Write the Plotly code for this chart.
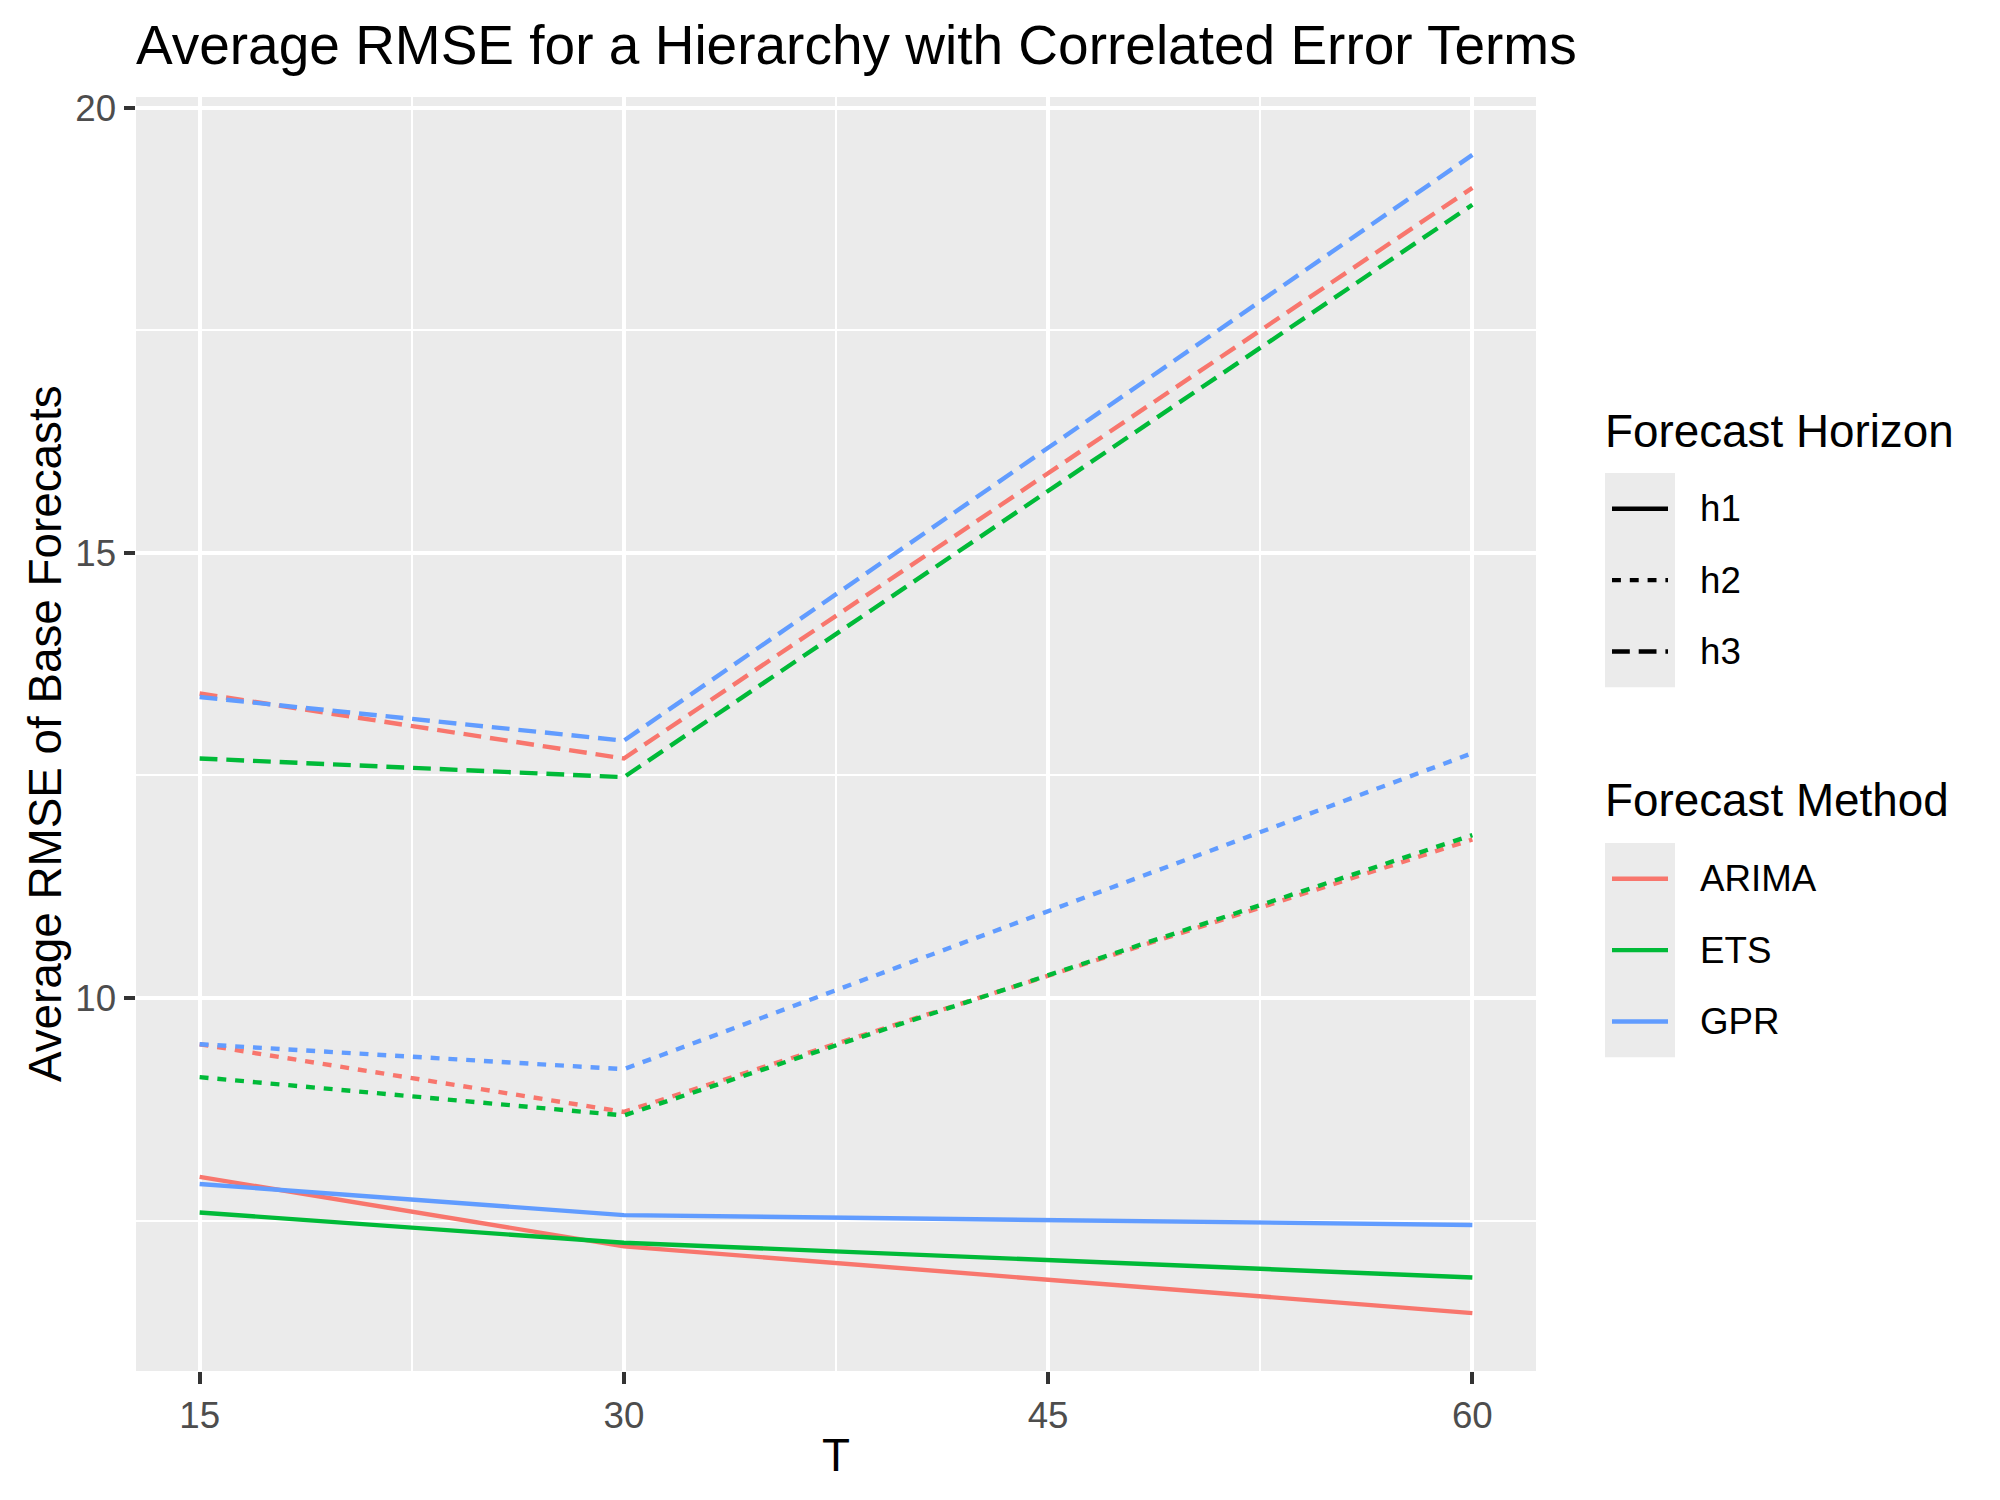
import plotly.graph_objects as go

# ---------------- data ----------------
T = [15, 30, 60]
methods = ["ARIMA", "ETS", "GPR"]
horizons = ["h1", "h2", "h3"]

arima_h1 = [7.99, 7.21, 6.46]
ets_h1 = [7.59, 7.25, 6.86]
gpr_h1 = [7.91, 7.56, 7.45]

arima_h2 = [9.48, 8.72, 11.78]
ets_h2 = [9.11, 8.68, 11.83]
gpr_h2 = [9.48, 9.20, 12.75]

arima_h3 = [13.42, 12.69, 19.10]
ets_h3 = [12.69, 12.48, 18.91]
gpr_h3 = [13.38, 12.89, 19.47]

x_ticks = [15, 30, 45, 60]
y_ticks = [10, 15, 20]

series = {
    ("ARIMA", "h1"): arima_h1, ("ARIMA", "h2"): arima_h2, ("ARIMA", "h3"): arima_h3,
    ("ETS", "h1"): ets_h1, ("ETS", "h2"): ets_h2, ("ETS", "h3"): ets_h3,
    ("GPR", "h1"): gpr_h1, ("GPR", "h2"): gpr_h2, ("GPR", "h3"): gpr_h3,
}

# ---------------- style ----------------
FONT = "Liberation Sans, Arial, Helvetica, sans-serif"
colors = {"ARIMA": "#F8766D", "ETS": "#00BA38", "GPR": "#619CFF"}
dashes = {"h1": "solid", "h2": "8.9px,8.9px", "h3": "17.8px,8.9px"}
LW = 4.4

OFF = 8  # browser default body margin
W, H = 2000 - 2 * OFF, 1500 - 2 * OFF
# target page coordinates of the panel
L, R, TOP, BOT = 136, 1536, 97, 1371
PW, PH = R - L, BOT - TOP


def px_x(p):
    return (p - L) / PW


def px_y(p):
    return (BOT - p) / PH


fig = go.Figure()
for m in methods:
    for h in horizons:
        fig.add_trace(go.Scatter(
            x=T, y=series[(m, h)], mode="lines",
            line=dict(color=colors[m], width=LW, dash=dashes[h]),
            name=f"{m} {h}", showlegend=False, hoverinfo="x+y+name",
        ))

allv = [v for s in series.values() for v in s]
ymin, ymax = min(allv), max(allv)
yr = [ymin - 0.05 * (ymax - ymin), ymax + 0.05 * (ymax - ymin)]
xr = [min(T) - 0.05 * (max(T) - min(T)), max(T) + 0.05 * (max(T) - min(T))]

axis_common = dict(
    showgrid=True, gridcolor="white", gridwidth=LW,
    zeroline=False, showline=False,
    ticks="outside", ticklen=11.5, tickwidth=LW, tickcolor="#333333",
    tickfont=dict(family=FONT, size=36.7, color="#4D4D4D"),
)

fig.update_xaxes(
    range=xr, tickvals=x_ticks, ticktext=[str(v) for v in x_ticks],
    minor=dict(tickvals=[22.5, 37.5, 52.5], showgrid=True, gridcolor="white",
               gridwidth=LW / 2, ticks=""),
    **axis_common,
)
fig.update_yaxes(
    range=yr, tickvals=y_ticks, ticktext=[str(v) for v in y_ticks],
    minor=dict(tickvals=[7.5, 12.5, 17.5], showgrid=True, gridcolor="white",
               gridwidth=LW / 2, ticks=""),
    **axis_common,
)

shapes = []
annotations = []

# axis titles
annotations.append(dict(
    text="Average RMSE of Base Forecasts", xref="paper", yref="paper",
    x=px_x(45), y=0.5, xanchor="center", yanchor="middle", textangle=-90,
    showarrow=False, font=dict(family=FONT, size=45.8, color="black"),
))
annotations.append(dict(
    text="T", xref="paper", yref="paper",
    x=0.5, y=px_y(1455), xanchor="center", yanchor="middle",
    showarrow=False, font=dict(family=FONT, size=45.8, color="black"),
))

# manual legends (ggplot-like)
KEY_L, KEY_R = 1605, 1675
KEY_H = 71.4
TXT_X = 1698


def legend_block(title, title_y, box_top, labels, line_colors, line_dashes):
    annotations.append(dict(
        text=title, xref="paper", yref="paper", x=px_x(KEY_L - 2), y=px_y(title_y),
        xanchor="left", yanchor="middle", showarrow=False,
        font=dict(family=FONT, size=45.8, color="black"),
    ))
    shapes.append(dict(
        type="rect", xref="paper", yref="paper",
        x0=px_x(KEY_L), x1=px_x(KEY_R), y0=px_y(box_top), y1=px_y(box_top + KEY_H * len(labels)),
        fillcolor="#EBEBEB", line=dict(width=0), layer="below",
    ))
    for i, lab in enumerate(labels):
        cy = box_top + KEY_H * (i + 0.5)
        shapes.append(dict(
            type="line", xref="paper", yref="paper",
            x0=px_x(KEY_L + 7), x1=px_x(KEY_R - 7), y0=px_y(cy), y1=px_y(cy),
            line=dict(color=line_colors[i], width=LW, dash=line_dashes[i]),
        ))
        annotations.append(dict(
            text=lab, xref="paper", yref="paper", x=px_x(TXT_X), y=px_y(cy),
            xanchor="left", yanchor="middle", showarrow=False,
            font=dict(family=FONT, size=36.7, color="black"),
        ))


legend_block("Forecast Horizon", 431, 473, horizons,
             ["black"] * 3, [dashes[h] for h in horizons])
legend_block("Forecast Method", 800, 843, methods,
             [colors[m] for m in methods], ["solid"] * 3)

fig.update_layout(
    width=W, height=H,
    margin=dict(l=L - OFF, r=(OFF + W) - R, t=TOP - OFF, b=(OFF + H) - BOT, autoexpand=False),
    paper_bgcolor="white", plot_bgcolor="#EBEBEB",
    showlegend=False,
    title=dict(
        text="Average RMSE for a Hierarchy with Correlated Error Terms",
        x=px_x(136), xref="paper", xanchor="left",
        y=1 - (45 - OFF) / H, yref="container", yanchor="middle",
        font=dict(family=FONT, size=55, color="black"),
    ),
    shapes=shapes, annotations=annotations,
)

fig.write_html("out.html")
